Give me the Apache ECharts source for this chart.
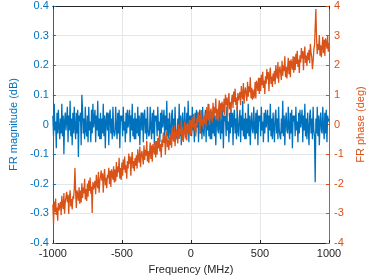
<!DOCTYPE html>
<html>
<head>
<meta charset="utf-8">
<script src="https://cdn.jsdelivr.net/npm/echarts@6/dist/echarts.min.js"></script>
<style>html,body{margin:0;padding:0;background:#fff}#c{width:374px;height:280px}</style>
</head>
<body>
<div id="c"></div>
<script>
// Frequency grid (MHz): start and step of the sampled points
var freqStart = -1000;
var freqStep = 5;

// FR magnitude (dB)
var magnitude = [
 0.03,-0.04,0.07,-0.02,0.01,-0.08,0.04,-0.03,0.05,-0.01,
 -0.05,0.02,-0.03,0.07,-0.04,0.03,-0.1,0.01,0.04,-0.02,
 0.02,0.06,-0.06,0.03,-0.02,0.08,-0.04,0.02,-0.07,0.04,
 -0.03,0.06,-0.01,-0.05,0.04,-0.03,0.05,-0.11,0.03,0.01,
 0.04,-0.07,0.1,0.05,-0.03,0.02,-0.05,0.06,-0.02,-0.04,
 0.03,-0.06,0.06,-0.02,0.01,-0.06,0.05,-0.03,0.07,-0.01,
 0.02,0.05,-0.06,0.03,-0.02,0.08,-0.04,0.02,-0.05,0.04,
 -0.05,0.02,-0.03,0.07,-0.04,0.03,-0.08,0.01,0.04,-0.02,
 0.04,-0.07,0.03,0.05,-0.03,0.02,-0.05,0.06,-0.02,-0.04,
 -0.03,0.06,-0.01,-0.05,0.04,-0.03,0.05,-0.08,0.03,0.01,
 0.03,-0.04,0.06,-0.02,0.01,-0.06,0.04,-0.03,0.05,-0.01,
 0.02,0.05,-0.06,0.03,-0.02,0.07,-0.04,0.02,-0.05,0.04,
 -0.05,0.02,-0.03,0.06,-0.04,0.03,-0.07,0.01,0.04,-0.02,
 0.04,-0.06,0.03,0.05,-0.03,0.02,-0.05,0.06,-0.02,-0.04,
 -0.03,0.06,-0.01,-0.05,0.04,-0.03,0.05,-0.07,0.03,0.01,
 0.03,-0.04,0.06,-0.02,0.01,-0.06,0.04,-0.03,0.05,-0.01,
 0.02,0.05,-0.06,0.03,-0.02,0.08,-0.04,0.02,-0.05,0.04,
 0.04,-0.07,0.03,0.05,-0.03,0.02,-0.05,0.06,-0.02,-0.04,
 -0.05,0.02,-0.03,0.07,-0.04,0.03,-0.07,0.01,0.04,-0.02,
 -0.03,0.06,-0.01,-0.05,0.04,-0.03,0.08,-0.06,0.03,0.01,
 0.03,-0.04,0.06,-0.02,0.01,-0.06,0.04,-0.03,0.05,-0.01,
 0.04,-0.06,0.03,0.05,-0.03,0.02,-0.05,0.06,-0.02,-0.04,
 0.02,0.05,-0.06,0.03,-0.02,0.07,-0.04,0.02,-0.05,0.04,
 -0.05,0.02,-0.03,0.06,-0.04,0.03,-0.07,0.01,0.04,-0.02,
 -0.03,0.06,-0.01,-0.05,0.04,-0.03,0.05,-0.08,0.03,0.01,
 0.03,-0.04,0.06,-0.02,0.01,-0.06,0.04,-0.03,0.05,-0.01,
 0.04,-0.07,0.03,0.05,-0.03,0.02,-0.05,0.06,-0.02,-0.04,
 0.02,0.05,-0.06,0.03,-0.02,0.08,-0.04,0.02,-0.05,0.04,
 -0.05,0.02,-0.03,0.07,-0.04,0.03,-0.07,0.01,0.04,-0.02,
 -0.03,0.06,-0.01,-0.05,0.04,-0.03,0.05,-0.07,0.03,0.01,
 0.03,-0.04,0.06,-0.02,0.01,-0.06,0.04,-0.03,0.05,-0.01,
 0.02,0.05,-0.06,0.03,-0.02,0.07,-0.04,0.02,-0.05,0.04,
 0.04,-0.06,0.03,0.05,-0.03,0.02,-0.05,0.06,-0.02,-0.04,
 -0.05,0.02,-0.03,0.08,-0.04,0.03,-0.07,0.01,0.04,-0.02,
 -0.03,0.06,-0.01,-0.05,0.04,-0.03,0.05,-0.08,0.03,0.01,
 0.03,-0.04,0.06,-0.02,0.01,-0.06,0.04,-0.03,0.05,-0.01,
 0.02,0.05,-0.06,0.03,-0.02,0.07,-0.04,0.02,-0.05,0.04,
 0.04,-0.07,0.03,0.05,-0.03,0.02,-0.05,0.06,-0.02,-0.04,
 -0.195,0.02,-0.03,0.06,-0.04,0.03,-0.07,0.01,0.04,-0.02,
 -0.03,0.06,-0.01,-0.05,0.04,-0.03,0.05,-0.06,0.03,0.01,
 0.02
];

// FR phase (deg)
var phase = [
 -2.70,-3.35,-2.60,-2.95,-2.50,-3.05,-2.80,-3.25,-2.65,-2.90,
 -2.96,-2.61,-3.06,-2.41,-2.71,-2.86,-2.31,-3.01,-2.61,-2.46,
 -2.27,-2.62,-2.37,-3.02,-2.47,-2.22,-2.77,-2.52,-2.87,-2.42,
 -2.52,-2.17,-1.47,-2.27,-2.82,-2.22,-2.37,-2.57,-2.12,-2.67,
 -2.23,-2.63,-1.98,-2.48,-2.13,-2.33,-1.83,-2.53,-2.18,-2.58,
 -1.99,-2.44,-1.89,-2.24,-1.79,-2.34,-2.09,-2.99,-1.94,-2.19,
 -2.25,-1.90,-2.35,-1.70,-2.00,-2.15,-1.60,-2.30,-1.90,-1.75,
 -1.55,-1.90,-1.65,-2.30,-1.75,-1.50,-2.05,-1.80,-2.15,-1.70,
 -1.81,-1.46,-2.01,-1.56,-2.11,-1.51,-1.66,-1.86,-1.41,-1.96,
 -1.52,-1.92,-1.27,-1.77,-1.42,-1.62,-1.12,-1.82,-1.47,-1.87,
 -1.28,-1.73,-1.18,-1.53,-1.08,-1.63,-1.38,-1.83,-1.23,-1.48,
 -0.98,-1.33,-1.08,-1.73,-1.18,-0.93,-1.48,-1.23,-1.58,-1.13,
 -1.39,-1.04,-1.49,-0.84,-1.14,-1.29,-0.74,-1.44,-1.04,-0.89,
 -0.95,-1.35,-0.70,-1.20,-0.85,-1.05,-0.55,-1.25,-0.90,-1.30,
 -0.96,-0.61,-1.16,-0.71,-1.26,-0.66,-0.81,-1.01,-0.56,-1.11,
 -0.56,-1.01,-0.46,-0.81,-0.36,-0.91,-0.66,-1.11,-0.51,-0.76,
 -0.27,-0.62,-0.37,-1.02,-0.47,-0.22,-0.77,-0.52,-0.87,-0.42,
 -0.68,-0.33,-0.78,-0.13,-0.43,-0.58,-0.03,-0.73,-0.33,-0.18,
 -0.24,-0.64,0.01,-0.49,-0.14,-0.34,0.16,-0.54,-0.19,-0.59,
 -0.24,0.11,-0.44,0.01,-0.54,0.06,-0.09,-0.29,0.16,-0.39,
 0.15,-0.30,0.25,-0.10,0.35,-0.20,0.05,-0.40,0.20,-0.05,
 0.44,0.09,0.34,-0.31,0.24,0.49,-0.06,0.19,-0.16,0.29,
 0.04,0.39,-0.06,0.59,0.29,0.14,0.69,-0.01,0.39,0.54,
 0.48,0.08,0.73,0.23,0.58,0.38,0.88,0.18,0.53,0.13,
 0.47,0.82,0.27,0.72,0.17,0.77,0.62,0.42,0.87,0.32,
 1.01,0.66,0.91,0.26,0.81,1.06,0.51,0.76,0.41,0.86,
 1.01,0.56,1.11,0.76,1.21,0.66,0.91,0.46,1.06,0.81,
 0.75,1.10,0.65,1.30,1.00,0.85,1.40,0.70,1.10,1.25,
 1.19,0.79,1.44,0.94,1.29,1.09,1.59,0.89,1.24,0.84,
 1.18,0.88,0.98,1.43,0.88,1.48,1.33,1.13,1.58,1.03,
 1.58,1.13,1.68,1.33,1.78,1.23,1.48,1.03,1.63,1.38,
 1.87,1.52,1.77,1.12,1.67,1.92,1.37,1.62,1.27,1.72,
 1.46,1.81,1.36,2.01,1.71,1.56,2.11,1.41,1.81,1.96,
 1.90,1.50,2.15,1.65,2.00,1.80,2.30,1.60,1.95,1.55,
 1.90,2.25,1.70,2.15,1.60,2.20,2.05,1.85,2.30,1.75,
 2.29,1.84,2.39,2.04,2.49,1.94,2.19,1.74,2.34,2.09,
 2.58,2.23,2.48,1.83,2.38,2.63,2.08,2.33,1.98,2.43,
 2.17,2.52,2.07,2.72,2.42,2.27,1.87,2.12,2.52,2.67,
 2.62,3.90,2.87,2.37,2.72,2.52,3.02,2.32,2.67,2.27,
 2.61,2.96,2.41,2.86,2.31,2.91,2.76,2.56,3.01,2.46,
 2.75
];

// Tick values
var freqTicks = [-1000, -500, 0, 500, 1000];
var magTicks = [-0.4, -0.3, -0.2, -0.1, 0, 0.1, 0.2, 0.3, 0.4];
var phaseTicks = [-4, -3, -2, -1, 0, 1, 2, 3, 4];

var BLUE = '#0072BD', ORANGE = '#D95319', DARK = '#262626', GRIDC = '#e3e6ea';
var FONT = 'Liberation Sans, Arial, Helvetica, sans-serif';

var magData = magnitude.map(function (v, i) { return [freqStart + i * freqStep, v]; });
var phaseData = phase.map(function (v, i) { return [freqStart + i * freqStep, v]; });

function fmt(v) { return String(Math.round(v * 10) / 10); }
function fmtInt(v) { return String(v); }

var chart = echarts.init(document.getElementById('c'), null, { renderer: 'canvas' });
chart.setOption({
  animation: false,
  backgroundColor: '#fff',
  grid: { left: 40, right: 30, top: 6, bottom: 32 },
  xAxis: [{
    type: 'value', min: freqTicks[0], max: freqTicks[freqTicks.length - 1],
    interval: freqTicks[1] - freqTicks[0],
    name: 'Frequency (MHz)', nameLocation: 'middle', nameGap: 21,
    nameTextStyle: { color: DARK, fontSize: 11, fontFamily: FONT },
    axisLine: { show: true, onZero: false, lineStyle: { color: DARK, width: 1 } },
    axisTick: { show: true, inside: true, length: 3, lineStyle: { color: DARK } },
    axisLabel: { color: DARK, fontSize: 11, fontFamily: FONT, margin: 5, formatter: fmtInt },
    splitLine: { show: true, lineStyle: { color: GRIDC, width: 1 } }
  }, {
    type: 'value', position: 'top', min: freqTicks[0], max: freqTicks[freqTicks.length - 1],
    interval: freqTicks[1] - freqTicks[0],
    axisLine: { show: true, onZero: false, lineStyle: { color: DARK, width: 1 } },
    axisTick: { show: true, inside: true, length: 3, lineStyle: { color: DARK } },
    axisLabel: { show: false }, splitLine: { show: false }
  }],
  yAxis: [{
    type: 'value', position: 'left', min: magTicks[0], max: magTicks[magTicks.length - 1],
    interval: 0.1,
    name: 'FR magnitude (dB)', nameLocation: 'middle', nameGap: 31,
    nameTextStyle: { color: BLUE, fontSize: 11, fontFamily: FONT },
    axisLine: { show: true, onZero: false, lineStyle: { color: BLUE, width: 1 } },
    axisTick: { show: true, inside: true, length: 3, lineStyle: { color: BLUE } },
    axisLabel: { color: BLUE, fontSize: 11, fontFamily: FONT, margin: 4, formatter: fmt },
    splitLine: { show: true, lineStyle: { color: GRIDC, width: 1 } }
  }, {
    type: 'value', position: 'right', min: phaseTicks[0], max: phaseTicks[phaseTicks.length - 1],
    interval: 1,
    name: 'FR phase (deg)', nameLocation: 'middle', nameGap: 26, nameRotate: 90,
    nameTextStyle: { color: ORANGE, fontSize: 11, fontFamily: FONT },
    axisLine: { show: true, onZero: false, lineStyle: { color: ORANGE, width: 1 } },
    axisTick: { show: true, inside: true, length: 3, lineStyle: { color: ORANGE } },
    axisLabel: { color: ORANGE, fontSize: 11, fontFamily: FONT, margin: 5, formatter: fmtInt },
    splitLine: { show: false }
  }],
  series: [{
    type: 'line', name: 'FR magnitude', xAxisIndex: 0, yAxisIndex: 0,
    data: magData, showSymbol: false, symbol: 'none',
    lineStyle: { color: BLUE, width: 1.3 }, z: 2
  }, {
    type: 'line', name: 'FR phase', xAxisIndex: 0, yAxisIndex: 1,
    data: phaseData, showSymbol: false, symbol: 'none',
    lineStyle: { color: ORANGE, width: 1.3 }, z: 3
  }]
});
</script>
</body>
</html>
